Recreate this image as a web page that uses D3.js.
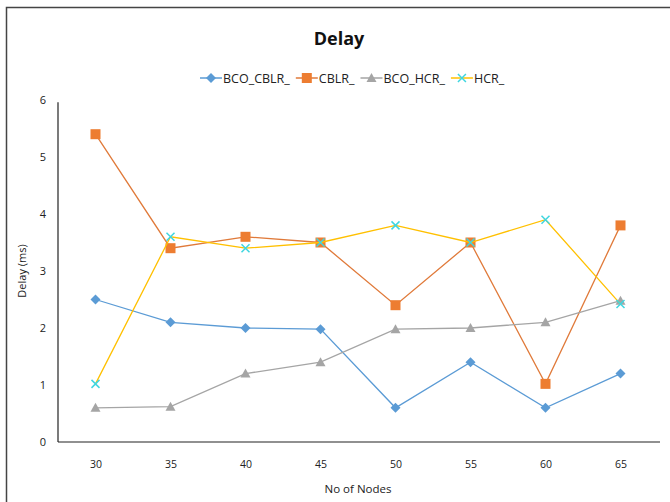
<!DOCTYPE html>
<html>
<head>
<meta charset="utf-8">
<script src="https://cdn.jsdelivr.net/npm/d3@7/dist/d3.min.js"></script>
<style>
  html, body { margin: 0; padding: 0; background: #fff; }
  svg { display: block; font-family: "Open Sans", "Liberation Sans", sans-serif; }
</style>
</head>
<body>
<svg id="chart" width="670" height="502"></svg>
<script>
// Node counts on the x axis
const nodes = ["30", "35", "40", "45", "50", "55", "60", "65"];
// Delay (ms) per protocol
const bcoCblr = [2.5, 2.1, 2.0, 1.98, 0.6, 1.4, 0.6, 1.2];
const cblr    = [5.4, 3.4, 3.6, 3.5, 2.4, 3.5, 1.02, 3.8];
const bcoHcr  = [0.6, 0.62, 1.2, 1.4, 1.98, 2.0, 2.1, 2.48];
const hcr     = [1.02, 3.6, 3.4, 3.5, 3.8, 3.5, 3.9, 2.42];
const yTicks  = [0, 1, 2, 3, 4, 5, 6];
const seriesNames = ["BCO_CBLR_", "CBLR_", "BCO_HCR_", "HCR_"];

const series = [
  { name: seriesNames[0], values: bcoCblr, line: "#5B9BD5", fill: "#5B9BD5", shape: "diamond" },
  { name: seriesNames[1], values: cblr,    line: "#E07A3A", fill: "#ED7D31", shape: "square" },
  { name: seriesNames[2], values: bcoHcr,  line: "#A5A5A5", fill: "#A5A5A5", shape: "triangle" },
  { name: seriesNames[3], values: hcr,     line: "#FFC000", fill: "#3FD6E0", shape: "cross" }
];

const svg = d3.select("#chart");

// chart frame
svg.append("path")
  .attr("d", "M6.5,502 V7.5 H670")
  .attr("fill", "none").attr("stroke", "#444").attr("stroke-width", 1.5);

const plotLeft = 58, plotRight = 658, plotTop = 100, plotBottom = 442;

const x = d3.scalePoint().domain(nodes).range([plotLeft, plotRight]).padding(0.5);
const y = d3.scaleLinear().domain([0, 6]).range([plotBottom, plotTop]);

// title
svg.append("text")
  .attr("x", 339).attr("y", 45)
  .attr("text-anchor", "middle")
  .attr("font-size", 18).attr("font-weight", "bold").attr("fill", "#111")
  .text("Delay");

// axes
const yAxis = svg.append("g").attr("transform", `translate(${plotLeft},0)`)
  .call(d3.axisLeft(y).tickValues(yTicks).tickFormat(d3.format("d")).tickSize(0).tickPadding(12));
yAxis.select(".domain").attr("stroke", "#222").attr("stroke-width", 1.2)
  .attr("d", `M0,${y(5.96)}V${plotBottom}`);
yAxis.selectAll("text").attr("font-size", 11).attr("fill", "#222")
  .attr("font-family", "'Open Sans', sans-serif");

const xAxis = svg.append("g").attr("transform", `translate(0,${plotBottom})`)
  .call(d3.axisBottom(x).tickSize(0).tickPadding(19));
xAxis.select(".domain").attr("stroke", "#222").attr("stroke-width", 1.2)
  .attr("d", `M${plotLeft},0H660`);
xAxis.selectAll("text").attr("font-size", 10.5).attr("fill", "#222")
  .attr("font-family", "'Open Sans', sans-serif");

// axis titles
svg.append("text")
  .attr("transform", `translate(26,${(plotTop + plotBottom) / 2}) rotate(-90)`)
  .attr("text-anchor", "middle").attr("font-size", 11).attr("fill", "#222")
  .text("Delay (ms)");
svg.append("text")
  .attr("x", 358).attr("y", 493)
  .attr("text-anchor", "middle").attr("font-size", 11.5).attr("fill", "#222")
  .text("No of Nodes");

function drawMarker(g, s, cx, cy) {
  if (s.shape === "diamond") {
    g.append("path").attr("d", `M${cx},${cy - 5}L${cx + 5},${cy}L${cx},${cy + 5}L${cx - 5},${cy}Z`)
      .attr("fill", s.fill);
  } else if (s.shape === "square") {
    g.append("rect").attr("x", cx - 5).attr("y", cy - 5).attr("width", 10).attr("height", 10)
      .attr("fill", s.fill);
  } else if (s.shape === "triangle") {
    g.append("path").attr("d", `M${cx},${cy - 5}L${cx + 5},${cy + 4}L${cx - 5},${cy + 4}Z`)
      .attr("fill", s.fill);
  } else {
    g.append("path").attr("d", `M${cx - 4},${cy - 4}L${cx + 4},${cy + 4}M${cx + 4},${cy - 4}L${cx - 4},${cy + 4}`)
      .attr("stroke", s.fill).attr("stroke-width", 1.5).attr("fill", "none");
  }
}

// series lines and markers
const line = d3.line().x((d, i) => x(nodes[i])).y(d => y(d));
series.forEach(s => {
  const g = svg.append("g");
  g.append("path").datum(s.values)
    .attr("d", line).attr("fill", "none")
    .attr("stroke", s.line).attr("stroke-width", 1.3);
  s.values.forEach((v, i) => drawMarker(g, s, x(nodes[i]), y(v)));
});

// legend: items laid out left to right from measured text widths
const legend = svg.append("g");
let lx = 200;
const ly = 78;
series.forEach(s => {
  legend.append("line").attr("x1", lx).attr("x2", lx + 22).attr("y1", ly).attr("y2", ly)
    .attr("stroke", s.line).attr("stroke-width", 1.5);
  drawMarker(legend, s, lx + 11, ly);
  const t = legend.append("text").attr("x", lx + 23).attr("y", ly + 4.5)
    .attr("font-size", 12.5).attr("fill", "#222").text(s.name);
  lx += 23 + t.node().getComputedTextLength() + 6;
});
</script>
</body>
</html>
